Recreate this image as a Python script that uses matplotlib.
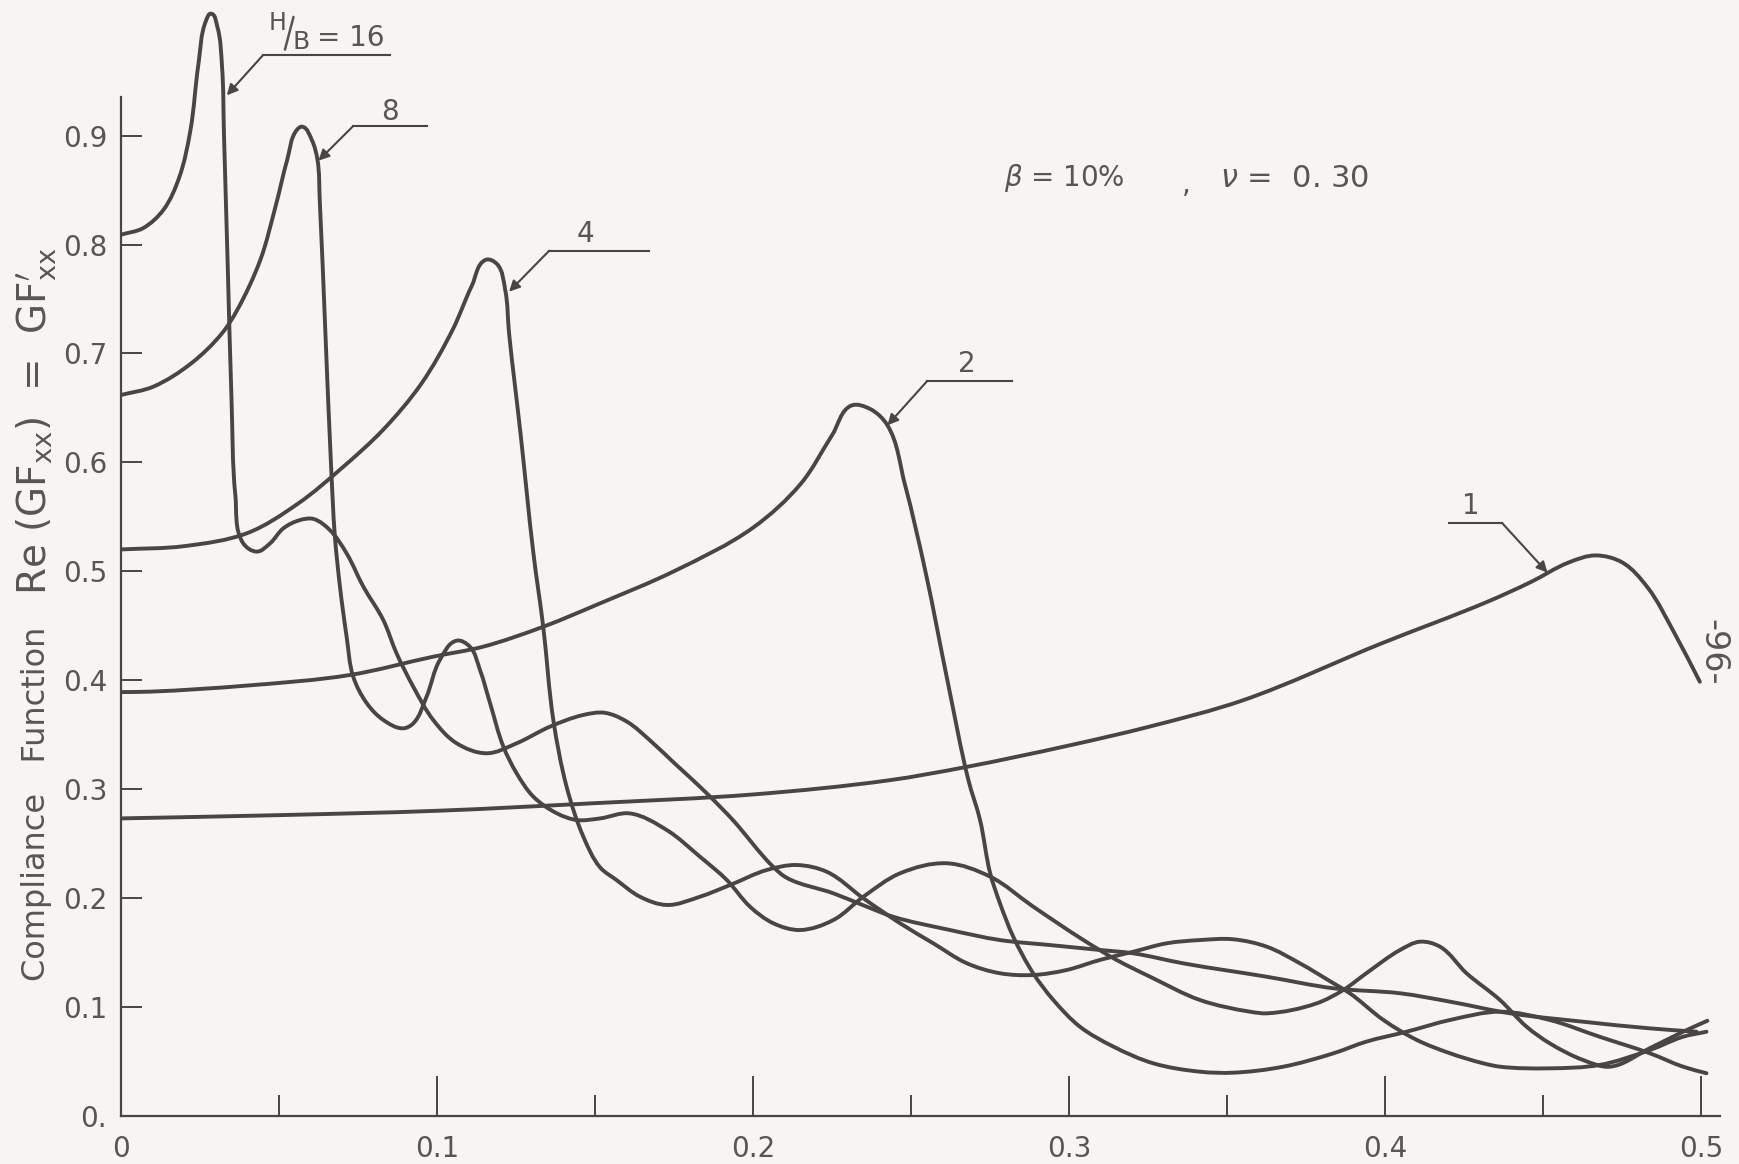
import matplotlib
matplotlib.use("Agg")
import matplotlib.pyplot as plt
import numpy as np
from matplotlib.path import Path
from matplotlib.patches import PathPatch

plt.rcParams['font.family'] = ['DejaVu Sans']
plt.rcParams['mathtext.fontset'] = 'dejavusans'

# H/B = 16
x16 = [0, 0.007, 0.0135, 0.0185, 0.022, 0.0245, 0.027, 0.0285, 0.0305,
       0.032, 0.0326, 0.0338, 0.035, 0.0362, 0.0387, 0.043, 0.0472, 0.0514, 0.0567, 0.0609,
       0.0661, 0.0714, 0.0767, 0.083, 0.0872, 0.0925, 0.0988, 0.1062, 0.1157, 0.1252, 0.1357,
       0.1463, 0.153, 0.16, 0.168, 0.175, 0.181, 0.1864, 0.1936, 0.2063, 0.2106, 0.2254,
       0.2359, 0.2443, 0.2623, 0.2781, 0.2939, 0.3097, 0.3203, 0.3361, 0.3625, 0.3836,
       0.4047, 0.4205, 0.4395, 0.4626, 0.4837, 0.4985]
y16 = [0.809, 0.815, 0.832, 0.862, 0.905, 0.965, 1.006, 1.012, 1.0,
       0.963, 0.902, 0.78, 0.657, 0.57, 0.5256, 0.518, 0.5256, 0.5394, 0.547, 0.548,
       0.5378, 0.5164, 0.4858, 0.4552, 0.4246, 0.3939, 0.3634, 0.342, 0.3328, 0.342, 0.3572,
       0.368, 0.370, 0.362, 0.343, 0.324, 0.308, 0.293, 0.2715, 0.2287, 0.2185, 0.2042,
       0.192, 0.1827, 0.1705, 0.1613, 0.1567, 0.1522, 0.1491, 0.1399, 0.1276, 0.117,
       0.1124, 0.1047, 0.094, 0.0863, 0.0802, 0.0771]

# H/B = 8
x8 = [0, 0.0102, 0.0223, 0.032, 0.0368, 0.0441, 0.0489, 0.0526, 0.0556, 0.0574, 0.0604,
      0.0622, 0.0629, 0.0647, 0.0665, 0.0677, 0.0693, 0.0714, 0.0735, 0.0778, 0.083, 0.0893,
      0.0925, 0.0967, 0.1009, 0.1062, 0.1104, 0.1136, 0.1168, 0.121, 0.1252, 0.1305, 0.1379,
      0.1442, 0.1516, 0.161, 0.1727, 0.1832, 0.1917, 0.199, 0.2064, 0.2148, 0.2254, 0.2349,
      0.2465, 0.2612, 0.275, 0.2886, 0.3045, 0.315, 0.3256, 0.3414, 0.3572, 0.3625, 0.3783,
      0.3867, 0.394, 0.4047, 0.411, 0.4173, 0.4257, 0.4363, 0.4447, 0.452, 0.4626, 0.4711,
      0.4837, 0.4942, 0.5019]
y8 = [0.6618, 0.6694, 0.691, 0.7185, 0.7399, 0.7858, 0.8347, 0.8776, 0.905, 0.9082, 0.896,
      0.8776, 0.841, 0.7185, 0.596, 0.5317, 0.4858, 0.44, 0.4031, 0.3787, 0.3634, 0.3557,
      0.3603, 0.3848, 0.4185, 0.4362, 0.4307, 0.4093, 0.3787, 0.3389, 0.3144, 0.2929, 0.2777,
      0.2715, 0.273, 0.2776, 0.2623, 0.2378, 0.2164, 0.192, 0.1767, 0.1705, 0.1797, 0.2011,
      0.2226, 0.2318, 0.2195, 0.192, 0.1613, 0.143, 0.1276, 0.1062, 0.0955, 0.094, 0.1032,
      0.1154, 0.1308, 0.1522, 0.1598, 0.1552, 0.1308, 0.1062, 0.0817, 0.0665, 0.0511, 0.045,
      0.062, 0.0771, 0.0872]

# H/B = 4
x4 = [0, 0.02, 0.04, 0.056, 0.07, 0.083, 0.095, 0.105, 0.111, 0.1155, 0.119,
      0.1216, 0.1228, 0.1264, 0.1305, 0.1336, 0.1368, 0.141, 0.1463, 0.1516,
      0.1568, 0.1642, 0.1727, 0.1832, 0.1927, 0.2043, 0.2138, 0.2233, 0.2349, 0.2465, 0.257,
      0.2676, 0.2781, 0.2886, 0.2992, 0.3097, 0.3203, 0.3308, 0.3414, 0.3519, 0.3625, 0.373,
      0.3836, 0.3888, 0.3994, 0.41, 0.4205, 0.431, 0.4363, 0.452, 0.4678, 0.4837, 0.4942,
      0.5016]
y4 = [0.52, 0.523, 0.535, 0.562, 0.595, 0.63, 0.672, 0.722, 0.762, 0.786, 0.782,
      0.758, 0.7185, 0.627, 0.5164, 0.449, 0.3634, 0.3021, 0.2562, 0.228,
      0.2164, 0.2011, 0.1935, 0.2011, 0.2118, 0.2256, 0.2302, 0.224, 0.1996, 0.1767, 0.1583,
      0.14, 0.1308, 0.1292, 0.1338, 0.143, 0.1506, 0.1583, 0.1613, 0.162, 0.1552, 0.1399,
      0.1216, 0.1124, 0.0879, 0.0695, 0.0573, 0.0481, 0.045, 0.0435, 0.0466, 0.0603, 0.0725,
      0.0771]

# H/B = 2
x2 = [0, 0.0092, 0.04, 0.0725, 0.0988, 0.1146, 0.1336, 0.1516, 0.175, 0.2, 0.215, 0.225,
      0.231, 0.237, 0.2425, 0.248, 0.2545, 0.2618, 0.2681, 0.2718, 0.275, 0.2781, 0.2823,
      0.2886, 0.295, 0.3034, 0.314, 0.3266, 0.3414, 0.3519, 0.3677, 0.3836, 0.394, 0.4067,
      0.4205, 0.4363, 0.452, 0.4678, 0.4837, 0.4942, 0.5016]
y2 = [0.389, 0.3894, 0.395, 0.4047, 0.4215, 0.4307, 0.449, 0.4705, 0.5, 0.54, 0.58, 0.625,
      0.652, 0.649, 0.634, 0.58, 0.50, 0.395, 0.3083, 0.2715, 0.2226, 0.195, 0.1644,
      0.1308, 0.1062, 0.0817, 0.0634, 0.0481, 0.0404, 0.0395, 0.045, 0.0573, 0.068, 0.0771,
      0.0879, 0.0955, 0.0879, 0.0725, 0.0573, 0.045, 0.039]

# H/B = 1
x1 = [0, 0.05, 0.1, 0.15, 0.2, 0.243, 0.267, 0.3, 0.325, 0.355, 0.3988, 0.4326, 0.446,
      0.458, 0.4665, 0.475, 0.483, 0.4915, 0.4995]
y1 = [0.273, 0.276, 0.28, 0.287, 0.295, 0.308, 0.32, 0.34, 0.357, 0.3815, 0.4337, 0.4723,
      0.49, 0.508, 0.5145, 0.508, 0.485, 0.443, 0.3985]

xticks = [0, 0.1, 0.2, 0.3, 0.4, 0.5]
xtick_labels = ['0', '0.1', '0.2', '0.3', '0.4', '0.5']
xminor = [0.05, 0.15, 0.25, 0.35, 0.45]
yticks = [0, 0.1, 0.2, 0.3, 0.4, 0.5, 0.6, 0.7, 0.8, 0.9]
ytick_labels = ['0.', '0.1', '0.2', '0.3', '0.4', '0.5', '0.6', '0.7', '0.8', '0.9']

ink = '#4a4444'
txt = '#5a5454'
paper = '#f6f5f1'

W, H = 1739, 1164
PX_X, PX_Y = 3161.0, 1089.0   # pixels per data unit, used only to shape the pen stroke


def smooth_path(xs, ys):
    # bezier path through the read points (drawn like a French curve)
    p = np.column_stack([np.asarray(xs) * PX_X, np.asarray(ys) * PX_Y])
    seg = np.diff(p, axis=0)
    ln = np.hypot(seg[:, 0], seg[:, 1])
    u = seg / ln[:, None]
    t = np.zeros_like(p)
    t[0], t[-1] = u[0], u[-1]
    t[1:-1] = u[:-1] + u[1:]
    t /= np.hypot(t[:, 0], t[:, 1])[:, None]
    verts, codes = [p[0]], [Path.MOVETO]
    for i in range(len(p) - 1):
        d = ln[i] / 3
        verts += [p[i] + t[i] * d, p[i + 1] - t[i + 1] * d, p[i + 1]]
        codes += [Path.CURVE4] * 3
    v = np.array(verts) / [PX_X, PX_Y]
    return Path(v, codes)


fig = plt.figure(figsize=(W / 100, H / 100), dpi=100, facecolor=paper)
ax = fig.add_axes([120.9 / W, (H - 1115.7) / H, 0.51 * PX_X / W, 1.02 * PX_Y / H])
ax.set_facecolor(paper)
ax.set_xlim(0, 0.51)
ax.set_ylim(0, 1.02)

for xs, ys in [(x16, y16), (x8, y8), (x4, y4), (x2, y2), (x1, y1)]:
    ax.add_patch(PathPatch(smooth_path(xs, ys), fill=False, edgecolor=ink, lw=2.8,
                           capstyle='round', joinstyle='round', transform=ax.transData))

for s in ['top', 'right']:
    ax.spines[s].set_visible(False)
ax.spines['left'].set_bounds(0, 0.935)
ax.spines['bottom'].set_bounds(0, 0.506)
for s in ['left', 'bottom']:
    ax.spines[s].set_color(ink)
    ax.spines[s].set_linewidth(1.6)

ax.set_xticks(xticks)
ax.set_xticklabels(xtick_labels)
ax.set_xticks(xminor, minor=True)
ax.set_yticks(yticks)
ax.set_yticklabels(ytick_labels)
ax.tick_params(axis='x', which='major', direction='in', length=29, width=1.4, color=ink,
               labelsize=20, labelcolor=txt, pad=14)
ax.tick_params(axis='x', which='minor', direction='in', length=15, width=1.4, color=ink)
ax.tick_params(axis='y', direction='in', length=15, width=1.4, color=ink,
               labelsize=20, labelcolor=txt, pad=10)

# H/B = 16 label: H raised, slash, B lowered
ax.text(0.0495, 1.003, 'H', ha='center', va='center', fontsize=17, color=txt)
ax.plot([0.0519, 0.0546], [0.979, 1.009], color=txt, lw=1.8, solid_capstyle='round')
ax.text(0.0569, 0.986, 'B', ha='center', va='center', fontsize=18, color=txt)
ax.text(0.0728, 0.99, '= 16', ha='center', va='center', fontsize=20, color=txt)

# curve labels with leader lines
labels = [
    ('', (0.064, 0.995), (0.045, 0.0851, 0.974), (0.045, 0.974), (0.0335, 0.937)),
    ('8', (0.0851, 0.922), (0.0735, 0.0967, 0.9088), (0.0735, 0.9088), (0.0625, 0.877)),
    ('4', (0.147, 0.81), (0.1355, 0.167, 0.7943), (0.1355, 0.7943), (0.1228, 0.7567)),
    ('2', (0.2676, 0.69), (0.255, 0.282, 0.6744), (0.255, 0.6744), (0.2425, 0.634)),
    ('1', (0.4271, 0.560), (0.42, 0.4369, 0.5444), (0.4369, 0.5444), (0.4513, 0.4987)),
]
for t, tpos, hline, elbow, tip in labels:
    if t:
        ax.text(tpos[0], tpos[1], t, ha='center', va='center', fontsize=20, color=txt)
    ax.plot([hline[0], hline[1]], [hline[2], hline[2]], color=ink, lw=1.5)
    ax.annotate('', xy=tip, xytext=elbow,
                arrowprops=dict(arrowstyle='-|>', color=ink, lw=1.5, mutation_scale=16,
                                shrinkA=0, shrinkB=0))

ax.text(0.2793, 0.861, r'$\beta$ = 10%', ha='left', va='center', fontsize=20, color=txt)
ax.text(0.3372, 0.855, ',', ha='center', va='center', fontsize=20, color=txt)
ax.text(0.3477, 0.861, r'$\nu$ =  0. 30', ha='left', va='center', fontsize=22, color=txt)

fig.text(0.021, 1 - 885 * 1.109 / H, 'Compliance   Function',
         rotation=90, ha='center', va='bottom', fontsize=23, color=txt)
fig.text(0.021, 1 - 380 * 1.109 / H,
         r'Re $(\mathrm{GF_{xx}})$  =  $\mathrm{GF^{\prime}_{xx}}$',
         rotation=90, ha='center', va='center', fontsize=28, color=txt)
fig.text(0.985, 0.44, '-96-', rotation=270, ha='center', va='center', fontsize=24, color=txt)

fig.savefig('out.png', dpi=100, facecolor=paper)
